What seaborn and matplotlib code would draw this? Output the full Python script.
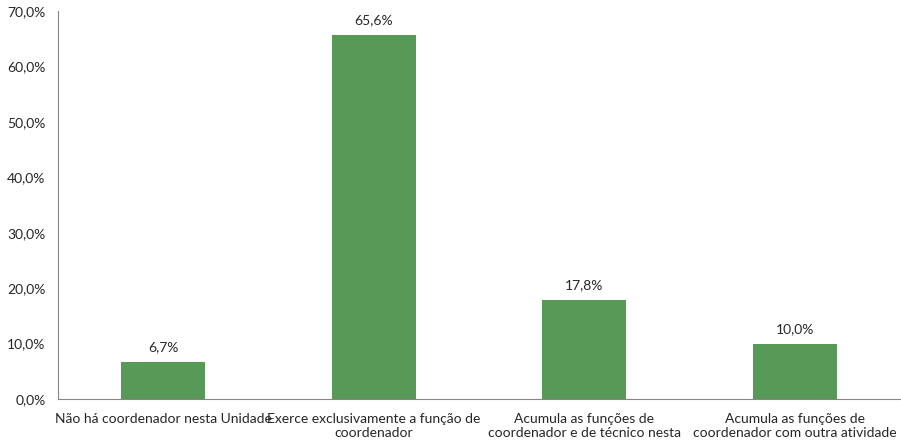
import matplotlib
matplotlib.use("Agg")
import matplotlib.pyplot as plt
import seaborn as sns
import pandas as pd
from matplotlib.ticker import FuncFormatter, FixedLocator

# Data
categories = [
    "Não há coordenador nesta Unidade",
    "Exerce exclusivamente a função de\ncoordenador",
    "Acumula as funções de\ncoordenador e de técnico nesta",
    "Acumula as funções de\ncoordenador com outra atividade",
]
values = [6.7, 65.6, 17.8, 10.0]
y_ticks = [0, 10, 20, 30, 40, 50, 60, 70]

df = pd.DataFrame({"categoria": categories, "valor": values})

sns.set_style("white")
plt.rcParams["font.family"] = ["Lato", "DejaVu Sans"]

fig = plt.figure(figsize=(9.01, 4.46), dpi=100)
ax = fig.add_axes([0.0644, 0.1054, 0.9345, 0.870])

sns.barplot(data=df, x="categoria", y="valor", color="#579957", width=0.4,
            saturation=1, linewidth=0, ax=ax)

# value labels
for i, v in enumerate(values):
    ax.text(i, v + 1.6, f"{v:.1f}%".replace(".", ","), ha="center", va="bottom",
            fontsize=10, color="#262626")

ax.set_ylim(0, 70)
ax.set_xlim(-0.5, len(categories) - 0.5)
ax.set_yticks(y_ticks)
ax.yaxis.set_major_formatter(FuncFormatter(lambda v, p: f"{v:.1f}%".replace(".", ",")))
ax.set_xlabel("")
ax.set_ylabel("")

# category separator ticks
ax.xaxis.set_minor_locator(FixedLocator([i - 0.5 for i in range(len(categories) + 1)]))
ax.tick_params(axis="x", which="major", length=0, pad=10, labelsize=10, colors="#262626")
ax.tick_params(axis="x", which="minor", length=5, direction="out", color="#868686", width=0.8)
ax.tick_params(axis="y", length=5, direction="out", color="#868686", width=0.8,
               labelsize=10, labelcolor="#262626", pad=4)

for side in ["top", "right"]:
    ax.spines[side].set_visible(False)
for side in ["left", "bottom"]:
    ax.spines[side].set_color("#868686")
    ax.spines[side].set_linewidth(0.8)

fig.savefig("out.png", dpi=100)
